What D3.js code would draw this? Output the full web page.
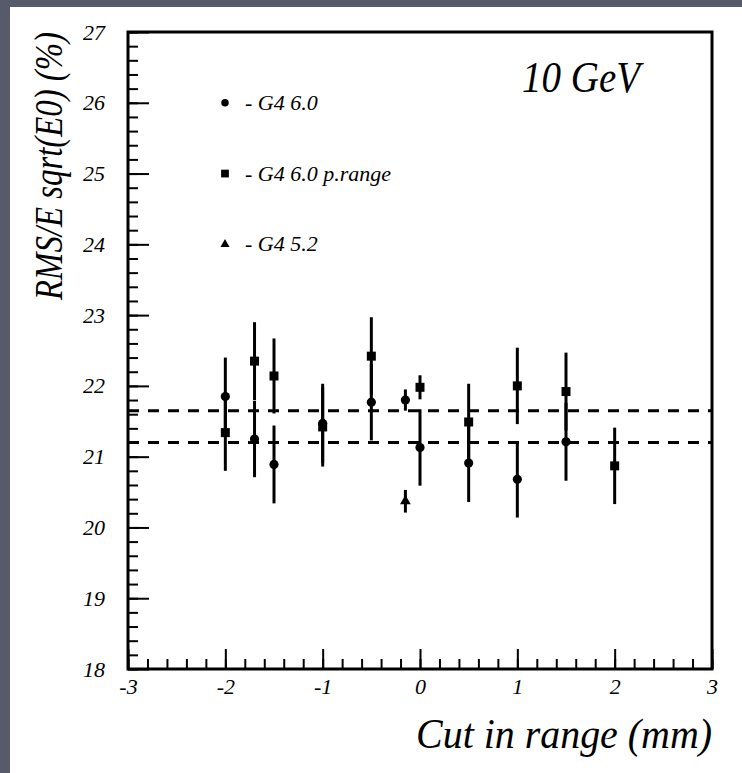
<!DOCTYPE html>
<html>
<head>
<meta charset="utf-8">
<style>
    body { margin: 0; background: #575a6a; }
    svg text { font-style: italic; fill: #000; }
    .minor line, .major line { stroke: #000; stroke-width: 2; }
    .axis path { display: none; }
</style>
<script src="https://d3js.org/d3.v7.min.js"></script>
</head>
<body>
<svg width="742" height="773"></svg>
<script>
    // G4 6.0
    let cutG460 = [-2, -1.7, -1.5, -1, -0.5, -0.15, 0, 0.5, 1, 1.5];
    let rmsG460 = [21.85, 21.25, 20.89, 21.47, 21.77, 21.80, 21.13, 20.91, 20.68, 21.21];
    let errG460 = [0.55, 0.54, 0.55, 0.56, 0.54, 0.15, 0.54, 0.55, 0.54, 0.55];

    // G4 6.0 p.range
    let cutPR = [-2, -1.7, -1.5, -1, -0.5, 0, 0.5, 1, 1.5, 2];
    let rmsPR = [21.34, 22.35, 22.14, 21.42, 22.42, 21.98, 21.49, 22.00, 21.92, 20.87];
    let errPR = [0.54, 0.55, 0.53, 0.56, 0.55, 0.17, 0.54, 0.54, 0.55, 0.54];

    // G4 5.2
    let cutG452 = [-0.15];
    let rmsG452 = [20.37];
    let errG452 = [0.16];

    let refLines = [21.65, 21.2];
    let xTicks = [-3, -2, -1, 0, 1, 2, 3];
    let yTicks = [18, 19, 20, 21, 22, 23, 24, 25, 26, 27];
    let legendNames = ["- G4 6.0", "- G4 6.0 p.range", "- G4 5.2"];

    // pick a Times-like face if one is there
    function hasFont(name) {
        let ctx = document.createElement("canvas").getContext("2d");
        let s = "mmmmmmmmmmlli10 GeV";
        return ["monospace", "sans-serif"].some(b => {
            ctx.font = "40px " + b;
            let w0 = ctx.measureText(s).width;
            ctx.font = "40px '" + name + "', " + b;
            return ctx.measureText(s).width !== w0;
        });
    }
    let candidates = ["Liberation Serif", "Tinos", "Times New Roman", "DejaVu Serif Condensed", "DejaVu Serif", "Noto Serif", "FreeSerif", "Liberation Sans Narrow", "DejaVu Sans Condensed"];
    let found = candidates.filter(hasFont);
    let serif = found.length ? "'" + found[0] + "', serif" : "serif";

    let svg = d3.select("svg");

    svg.append("rect").attr("width", 742).attr("height", 773).attr("fill", "#575a6a");
    svg.append("rect").attr("x", 10).attr("y", 7).attr("width", 732).attr("height", 766).attr("fill", "#fff");

    let x = d3.scaleLinear().domain([-3, 3]).range([128, 712]);
    let y = d3.scaleLinear().domain([18, 27]).range([669, 32]);

    // minor ticks
    svg.append("g").attr("class", "axis minor")
        .attr("transform", "translate(0," + y(18) + ")")
        .call(d3.axisBottom(x).tickValues(d3.range(-30, 31, 2).map(d => d / 10)).tickSize(-10).tickFormat(""));
    svg.append("g").attr("class", "axis minor")
        .attr("transform", "translate(" + x(-3) + ",0)")
        .call(d3.axisLeft(y).tickValues(d3.range(180, 271, 2).map(d => d / 10)).tickSize(-10).tickFormat(""));

    // major ticks + labels (plain hyphen for minus, like the original)
    let xAxis = svg.append("g").attr("class", "axis major")
        .attr("transform", "translate(0," + y(18) + ")")
        .call(d3.axisBottom(x).tickValues(xTicks).tickSize(-20).tickPadding(9).tickFormat(d => String(d)));
    xAxis.attr("font-family", serif);
    xAxis.selectAll("text").attr("font-size", 22);

    let yAxis = svg.append("g").attr("class", "axis major")
        .attr("transform", "translate(" + x(-3) + ",0)")
        .call(d3.axisLeft(y).tickValues(yTicks).tickSize(-21).tickPadding(23).tickFormat(d => String(d)));
    yAxis.attr("font-family", serif);
    yAxis.selectAll("text").attr("font-size", 22);

    // frame
    svg.append("rect")
        .attr("x", x(-3)).attr("y", y(27))
        .attr("width", x(3) - x(-3)).attr("height", y(18) - y(27))
        .attr("fill", "none").attr("stroke", "#000").attr("stroke-width", 3);

    // reference dashed lines
    svg.selectAll(".ref").data(refLines).enter().append("line")
        .attr("x1", x(-3)).attr("x2", x(3))
        .attr("y1", d => y(d)).attr("y2", d => y(d))
        .attr("stroke", "#000").attr("stroke-width", 3).attr("stroke-dasharray", "11,9");

    function series(cuts, vals, errs, shape, size) {
        let data = cuts.map((c, i) => ({ c: c, v: vals[i], e: errs[i] }));
        let g = svg.append("g");
        g.selectAll("line").data(data).enter().append("line")
            .attr("x1", d => x(d.c)).attr("x2", d => x(d.c))
            .attr("y1", d => y(d.v + d.e)).attr("y2", d => y(d.v - d.e))
            .attr("stroke", "#000").attr("stroke-width", 3);
        g.selectAll("path").data(data).enter().append("path")
            .attr("d", d3.symbol().type(shape).size(size))
            .attr("transform", d => "translate(" + x(d.c) + "," + y(d.v) + ")")
            .attr("fill", "#000");
    }

    series(cutG460, rmsG460, errG460, d3.symbolCircle, 66);
    series(cutPR, rmsPR, errPR, d3.symbolSquare, 81);
    series(cutG452, rmsG452, errG452, d3.symbolTriangle, 50);

    // squeeze a text horizontally to a target length (Times is narrower than what we have)
    function fitText(px, py, rot, anchor, size, target, str) {
        let t = svg.append("text")
            .attr("text-anchor", anchor)
            .attr("font-family", serif)
            .attr("font-size", size)
            .text(str);
        let len = t.node().getComputedTextLength();
        let k = Math.min(1, target / len);
        t.attr("transform", "translate(" + px + "," + py + ") rotate(" + rot + ") scale(" + k + ",1)");
        return t;
    }

    // legend
    let shapes = [d3.symbolCircle, d3.symbolSquare, d3.symbolTriangle];
    let sizes = [44, 60, 36];
    let legendLen = [80, 158, 78];
    legendNames.forEach((name, i) => {
        let ly = y(26 - i);
        svg.append("path")
            .attr("d", d3.symbol().type(shapes[i]).size(sizes[i]))
            .attr("transform", "translate(225," + ly + ")")
            .attr("fill", "#000");
        fitText(245, ly + 7, 0, "start", 22, legendLen[i], name);
    });

    fitText(640, 92, 0, "end", 44, 118, "10 GeV");
    fitText(x(3), 748, 0, "end", 42, 296, "Cut in range (mm)");
    fitText(62, 32, -90, "end", 40, 268, "RMS/E sqrt(E0) (%)");
</script>
</body>
</html>
